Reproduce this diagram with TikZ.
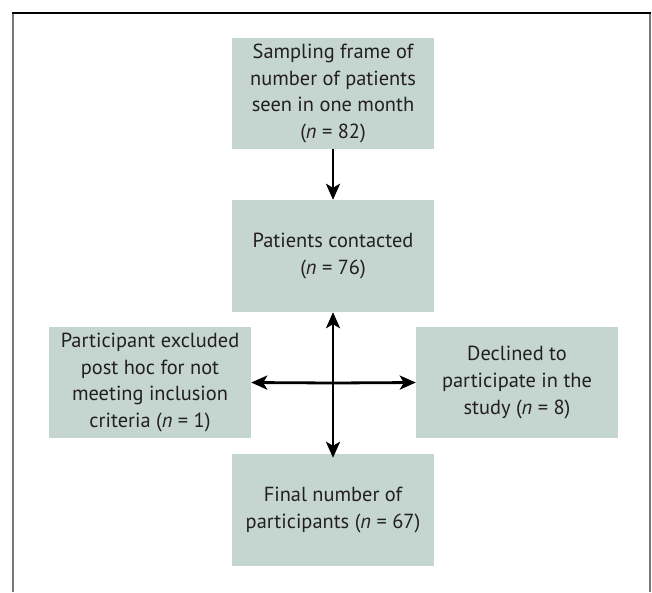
\documentclass[tikz,border=0pt]{standalone}
\usepackage{fontspec}
\setmainfont{PT Sans}
\usetikzlibrary{arrows.meta}
\definecolor{boxfill}{RGB}{197,213,207}
\definecolor{framegray}{RGB}{120,120,120}
\definecolor{txt}{RGB}{35,31,32}
\tikzset{
  flowbox/.style={fill=boxfill, draw=none, minimum width=202pt, minimum height=111pt,
    align=center, inner sep=0pt, text=txt,
    font=\fontsize{20.4}{26.7}\selectfont},
  flowarrow/.style={line width=2.8pt, -{Stealth[length=16pt,width=14pt,inset=4pt]}}
}
\begin{document}
\begin{tikzpicture}[x=1pt,y=-1pt]
\useasboundingbox (0,0) rectangle (652,592);
% frame
\draw[framegray, line width=2pt] (13,13) -- (13,592);
\draw[framegray, line width=2pt] (650,13) -- (650,592);
\draw[black, line width=2pt] (12,13) -- (651,13);
% boxes
\node[flowbox] (b1) at (333,93.5) {Sampling frame of\\number of patients\\seen in one month\\(\textit{n} = 82)};
\node[flowbox, minimum height=112pt] (b2) at (333,256) {Patients contacted\\(\textit{n} = 76)};
\node[flowbox] (bl) at (150,382.5) {Participant excluded\\post hoc for not\\meeting inclusion\\criteria (\textit{n} = 1)};
\node[flowbox] (br) at (517,382.5) {Declined to\\participate in the\\study (\textit{n} = 8)};
\node[flowbox, minimum height=112pt] (b3) at (333,510) {Final number of\\participants (\textit{n} = 67)};
\coordinate (c) at (333,383);
% arrows
\draw[flowarrow] (b1.south) -- (b2.north);
\draw[flowarrow] (c) -- (b2.south);
\draw[flowarrow] (c) -- ([yshift=-4pt]b3.north);
\draw[flowarrow] (c) -- (bl.east);
\draw[flowarrow] (c) -- (br.west);
\end{tikzpicture}
\end{document}
